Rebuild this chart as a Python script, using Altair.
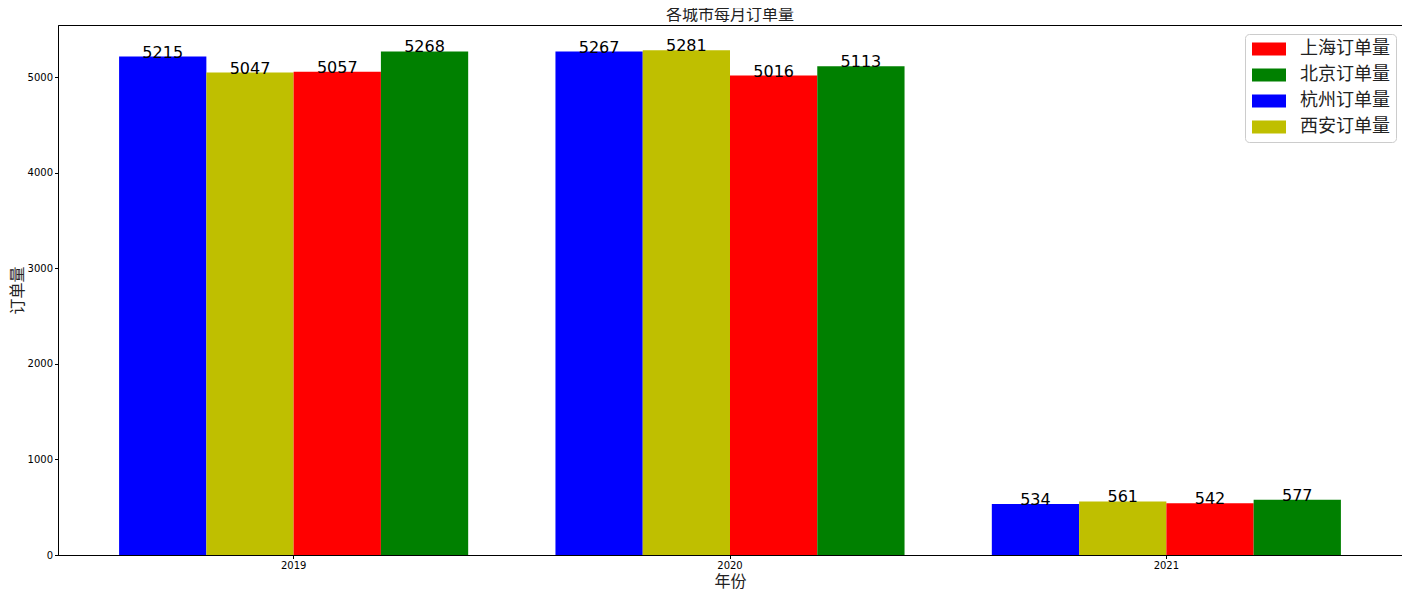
import altair as alt
import pandas as pd

years = ["2019", "2020", "2021"]
cities = ["杭州订单量", "西安订单量", "上海订单量", "北京订单量"]
hangzhou = [5215, 5267, 534]
xian = [5047, 5281, 561]
shanghai = [5057, 5016, 542]
beijing = [5268, 5113, 577]

legend_order = ["上海订单量", "北京订单量", "杭州订单量", "西安订单量"]
legend_colors = ["#ff0000", "#008000", "#0000ff", "#bfbf00"]

rows = []
for city, vals in zip(cities, [hangzhou, xian, shanghai, beijing]):
    for y, v in zip(years, vals):
        rows.append({"年份": y, "城市": city, "订单量": v})
df = pd.DataFrame(rows)

FONT = "Noto Sans CJK SC"

x = alt.X("年份:N", title="年份",
          scale=alt.Scale(paddingInner=0.2, paddingOuter=0.14),
          axis=alt.Axis(labelAngle=0, labelFontSize=10, labelFont="DejaVu Sans",
                        labelColor="#000", tickSize=3.5, tickColor="#000",
                        domainColor="#000", titleFontSize=16, titleFont=FONT,
                        titleFontWeight="normal", titleColor="#222", titlePadding=3))
xo = alt.XOffset("城市:N", sort=cities, scale=alt.Scale(paddingInner=0, paddingOuter=0))
y = alt.Y("订单量:Q", title="订单量",
          scale=alt.Scale(domain=[0, 5545], nice=False),
          axis=alt.Axis(values=[0, 1000, 2000, 3000, 4000, 5000], format="d", grid=False,
                        labelFontSize=10, labelFont="DejaVu Sans", labelColor="#000",
                        tickSize=3.5, tickColor="#000", domainColor="#000",
                        titleFontSize=16, titleFont=FONT, titleFontWeight="normal",
                        titleColor="#222", titlePadding=2))

color = alt.Color("城市:N",
                  scale=alt.Scale(domain=legend_order, range=legend_colors),
                  legend=alt.Legend(title=None, orient="none", legendX=1187, legendY=9,
                                    symbolType="M-2,-0.76H2V0.76H-2Z", symbolSize=289,
                                    symbolStrokeWidth=0, symbolOpacity=1,
                                    symbolOffset=9,
                                    labelFont=FONT, labelFontSize=18, labelColor="#222",
                                    labelOffset=22, rowPadding=8,
                                    fillColor="white", strokeColor="#cccccc",
                                    cornerRadius=4, padding=6))

base = alt.Chart(df).encode(x=x, xOffset=xo, y=y)
bars = base.mark_bar(strokeWidth=0, opacity=1).encode(color=color)
labels = base.mark_text(baseline="alphabetic", dy=1, fontSize=16, font="DejaVu Sans",
                        color="#000").encode(text="订单量:Q")

chart = (bars + labels).properties(
    width=1344, height=530,
    title=alt.TitleParams("各城市每月订单量", fontSize=16, font=FONT,
                          fontWeight="normal", color="#222", offset=2),
    autosize=alt.AutoSizeParams(type="none"),
    padding={"left": 50, "top": 17, "right": 0, "bottom": 35},
).configure_view(stroke="#000", strokeWidth=1)

chart.save("out.html", embed_options={"renderer": "svg", "actions": False})
